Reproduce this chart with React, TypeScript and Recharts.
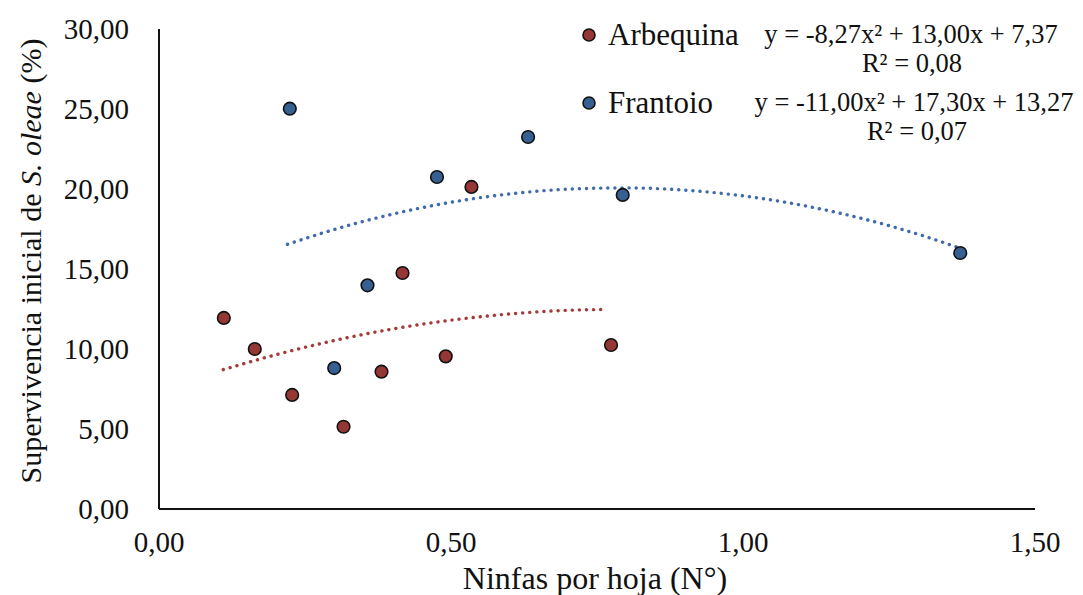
import React from 'react';
import { ComposedChart, Scatter, Line, XAxis, YAxis, Legend } from 'recharts';

const seriesNames = ['Arbequina', 'Frantoio'];
const seriesColors = ['#953735', '#376092'];
const trendColors = ['#A53B39', '#3F6BA8'];
const equations = ['y = -8,27x² + 13,00x + 7,37', 'y = -11,00x² + 17,30x + 13,27'];
const rSquared = ['R² = 0,08', 'R² = 0,07'];

const arbequinaNinfas = [0.111, 0.164, 0.228, 0.316, 0.381, 0.417, 0.491, 0.535, 0.774];
const arbequinaSupervivencia = [11.94, 10.0, 7.13, 5.14, 8.58, 14.75, 9.54, 20.13, 10.25];
const frantoioNinfas = [0.224, 0.3, 0.357, 0.476, 0.632, 0.794, 1.372];
const frantoioSupervivencia = [25.02, 8.81, 13.98, 20.75, 23.25, 19.63, 16.0];

const arbequinaTrendX = [0.11, 0.2, 0.3, 0.4, 0.5, 0.6, 0.7, 0.765];
const arbequinaTrendY = [8.71, 9.64, 10.53, 11.25, 11.8, 12.19, 12.42, 12.47];
const frantoioTrendX = [0.22, 0.3, 0.4, 0.5, 0.6, 0.7, 0.8, 0.9, 1.0, 1.1, 1.2, 1.3, 1.37];
const frantoioTrendY = [16.54, 17.47, 18.43, 19.17, 19.69, 19.99, 20.07, 19.93, 19.57, 18.99, 18.19, 17.17, 16.32];

const xTicks = [0, 0.5, 1.0, 1.5];
const yTicks = [0, 5, 10, 15, 20, 25, 30];

const zip = (xs: number[], ys: number[]) => xs.map((x, i) => ({ x, y: ys[i] }));
const arbequinaData = zip(arbequinaNinfas, arbequinaSupervivencia);
const frantoioData = zip(frantoioNinfas, frantoioSupervivencia);
const arbequinaTrend = zip(arbequinaTrendX, arbequinaTrendY);
const frantoioTrend = zip(frantoioTrendX, frantoioTrendY);

const FONT = '"Liberation Serif", "Times New Roman", serif';
const fmt = (v: number) => v.toFixed(2).replace('.', ',');

const makeDot = (color: string) => (props: any) => {
  const { cx, cy } = props;
  if (cx == null || cy == null) return <g />;
  return <circle cx={cx} cy={cy} r={6.3} fill={color} stroke="#111" strokeWidth={1.6} />;
};

const LegendBox = () => (
  <svg width={1075} height={160} style={{ display: 'block', overflow: 'visible' }}>
    {seriesNames.map((name, i) => {
      const base = i === 0 ? 0 : 68;
      return (
        <g key={name} fontFamily={FONT} fill="#111">
          <circle cx={581} cy={27 + base} r={6} fill={seriesColors[i]} stroke="#111" strokeWidth={1.6} />
          <text x={600} y={37 + base} fontSize={31}>{name}</text>
          <text x={903 + i * 3} y={35 + base} fontSize={26.5} textAnchor="middle">{equations[i]}</text>
          <text x={904 + i * 5} y={64 + base} fontSize={26.5} textAnchor="middle">{rSquared[i]}</text>
        </g>
      );
    })}
  </svg>
);

const YTitle = (props: any) => {
  const vb = props.viewBox || {};
  const cx = vb.x + 22;
  const cy = vb.y + vb.height / 2 - 8;
  return (
    <text
      x={cx}
      y={cy}
      transform={`rotate(-90, ${cx}, ${cy})`}
      textAnchor="middle"
      dominantBaseline="central"
      fontFamily={FONT}
      fontSize={30}
      fill="#111"
    >
      Supervivencia inicial de <tspan fontStyle="italic">S. oleae</tspan> (%)
    </text>
  );
};

const XTitle = (props: any) => {
  const vb = props.viewBox || {};
  return (
    <text
      x={vb.x + vb.width / 2 - 2}
      y={vb.y + 80}
      textAnchor="middle"
      fontFamily={FONT}
      fontSize={32}
      fill="#111"
    >
      Ninfas por hoja (N°)
    </text>
  );
};

export default function App() {
  const tickStyle = { fontFamily: FONT, fontSize: 29, fill: '#111' };
  return (
    <ComposedChart width={1075} height={587} margin={{ top: 21, right: 48, bottom: 0, left: 0 }}>
      <XAxis
        type="number"
        dataKey="x"
        domain={[0, 1.5]}
        ticks={xTicks}
        tickFormatter={fmt}
        tick={tickStyle}
        tickLine={false}
        tickSize={0}
        tickMargin={22}
        axisLine={{ stroke: '#111', strokeWidth: 2 }}
        height={86}
        interval={0}
        label={<XTitle />}
      />
      <YAxis
        type="number"
        dataKey="y"
        domain={[0, 30]}
        ticks={yTicks}
        tickFormatter={fmt}
        tick={tickStyle}
        tickLine={false}
        tickSize={0}
        tickMargin={30}
        axisLine={{ stroke: '#111', strokeWidth: 2 }}
        width={151}
        interval={0}
        label={<YTitle />}
      />
      <Legend
        layout="horizontal"
        verticalAlign="middle"
        align="center"
        wrapperStyle={{ top: 0, left: 0, width: 1075, height: 160 }}
        content={() => <LegendBox />}
      />
      <Line
        data={arbequinaTrend}
        dataKey="y"
        type="monotone"
        stroke={trendColors[0]}
        strokeWidth={3.4}
        strokeDasharray="0.1 7"
        strokeLinecap="round"
        dot={false}
        activeDot={false}
        isAnimationActive={false}
        legendType="none"
      />
      <Line
        data={frantoioTrend}
        dataKey="y"
        type="monotone"
        stroke={trendColors[1]}
        strokeWidth={3.4}
        strokeDasharray="0.1 7"
        strokeLinecap="round"
        dot={false}
        activeDot={false}
        isAnimationActive={false}
        legendType="none"
      />
      <Scatter
        name={seriesNames[0]}
        data={arbequinaData}
        dataKey="y"
        fill={seriesColors[0]}
        shape={makeDot(seriesColors[0])}
        isAnimationActive={false}
      />
      <Scatter
        name={seriesNames[1]}
        data={frantoioData}
        dataKey="y"
        fill={seriesColors[1]}
        shape={makeDot(seriesColors[1])}
        isAnimationActive={false}
      />
    </ComposedChart>
  );
}
